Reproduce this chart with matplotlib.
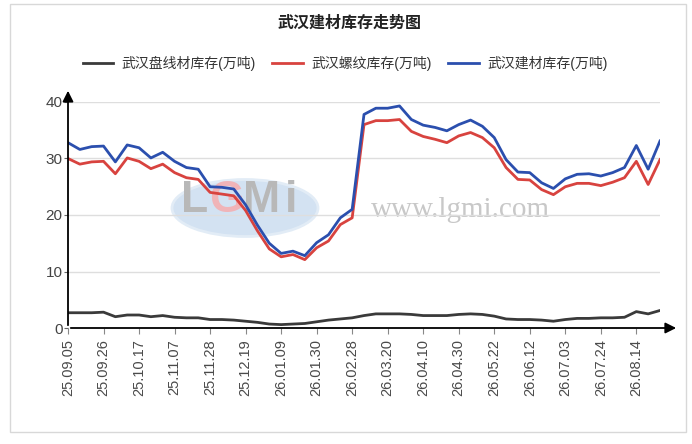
import matplotlib.pyplot as plt
import numpy as np
from matplotlib.patches import Rectangle, Ellipse

plt.rcParams['font.family'] = ['Liberation Sans', 'Noto Sans CJK SC', 'DejaVu Sans']

tick_labels = ['25.09.05', '25.09.26', '25.10.17', '25.11.07', '25.11.28', '25.12.19',
               '26.01.09', '26.01.30', '26.02.28', '26.03.20', '26.04.10', '26.04.30',
               '26.05.22', '26.06.12', '26.07.03', '26.07.24', '26.08.14']

wire_rod = [2.7, 2.7, 2.7, 2.8, 2.0, 2.3, 2.3, 2.0, 2.2, 1.9, 1.8, 1.8, 1.5,
            1.5, 1.4, 1.2, 1.0, 0.7, 0.6, 0.7, 0.8, 1.1, 1.4, 1.6, 1.8, 2.2,
            2.5, 2.5, 2.5, 2.4, 2.2, 2.2, 2.2, 2.4, 2.5, 2.4, 2.1, 1.6, 1.5,
            1.5, 1.4, 1.2, 1.5, 1.7, 1.7, 1.8, 1.8, 1.9, 2.9, 2.5, 3.1]

rebar = [30.0, 29.0, 29.4, 29.5, 27.3, 30.1, 29.5, 28.2, 29.0, 27.5, 26.6, 26.3, 24.0,
         23.7, 23.4, 20.8, 17.2, 14.0, 12.6, 13.0, 12.1, 14.2, 15.4, 18.3, 19.5, 36.0,
         36.7, 36.7, 36.9, 34.8, 33.9, 33.4, 32.8, 34.0, 34.6, 33.7, 31.9, 28.4, 26.3,
         26.2, 24.5, 23.6, 25.0, 25.6, 25.6, 25.2, 25.8, 26.6, 29.5, 25.4, 29.8]

building = [32.8, 31.6, 32.1, 32.2, 29.4, 32.4, 31.9, 30.1, 31.1, 29.5, 28.4, 28.1, 25.0,
            24.9, 24.6, 21.8, 18.2, 15.0, 13.2, 13.6, 12.8, 15.1, 16.5, 19.5, 21.0, 37.8,
            38.9, 38.9, 39.3, 36.9, 35.9, 35.5, 34.9, 36.0, 36.8, 35.7, 33.7, 29.8, 27.6,
            27.5, 25.7, 24.7, 26.4, 27.2, 27.3, 26.9, 27.5, 28.4, 32.3, 28.1, 33.1]

x = np.arange(len(building))
W, H = 692, 444

fig = plt.figure(figsize=(6.92, 4.44), dpi=100)
fig.patches.append(Rectangle((10 / W, 1 - 432 / H), 676 / W, 428 / H,
                             transform=fig.transFigure, fill=False,
                             edgecolor='#d8d8d8', lw=1))
ax = fig.add_axes([68 / W, 1 - 328 / H, 592 / W, 226 / H])
ax.set_zorder(2)
ax.set_facecolor('none')

# watermark behind the plot
fig.patches.append(Ellipse((245 / W, 1 - 208 / H), 146 / W, 57 / H,
                           transform=fig.transFigure, facecolor='#d3e2f2',
                           edgecolor='#e2ecf6', lw=2, zorder=0))
for ch, cx, col in [('L', 195, '#b8b8b8'), ('G', 226, '#f0b4b8'),
                    ('M', 262, '#b8b8b8'), ('i', 291, '#b8b8b8')]:
    fig.text(cx / W, 1 - 200 / H, ch, fontsize=32, fontweight='bold',
             color=col, ha='center', va='center', zorder=0.5)
fig.text(460 / W, 1 - 210 / H, 'www.lgmi.com', fontsize=21,
         family='Liberation Serif', color='#c8c8c8', ha='center', va='center', zorder=0.5)

ax.plot(x, wire_rod, color='#3a3a3a', lw=2, label='武汉盘线材库存(万吨)', zorder=3,
        solid_joinstyle='round')
ax.plot(x, rebar, color='#d8433f', lw=2, label='武汉螺纹库存(万吨)', zorder=3,
        solid_joinstyle='round')
ax.plot(x, building, color='#2b4fae', lw=2, label='武汉建材库存(万吨)', zorder=3,
        solid_joinstyle='round')

ax.set_xlim(0, len(x) - 1)
ax.set_ylim(0, 40)
ax.set_yticks([0, 10, 20, 30, 40])
ax.set_xticks(np.arange(0, len(x), 3))
ax.set_xticklabels(tick_labels, rotation=90)
ax.grid(axis='y', color='#dedede', lw=1)
ax.set_axisbelow(True)
for s in ax.spines.values():
    s.set_visible(False)
ax.tick_params(axis='y', length=3, color='#666666', labelsize=11, labelcolor='#444444', pad=1)
ax.tick_params(axis='x', length=4, color='#888888', labelsize=10.5, labelcolor='#4a4a4a', pad=4)

ax.annotate('', xy=(1.032, 0), xytext=(0, 0), xycoords='axes fraction',
            arrowprops=dict(arrowstyle='-|>', color='black', lw=1.3, mutation_scale=16))
ax.annotate('', xy=(0, 1.062), xytext=(0, 0), xycoords='axes fraction',
            arrowprops=dict(arrowstyle='-|>', color='black', lw=1.3, mutation_scale=16))

fig.text(350 / W, 1 - 23 / H, '武汉建材库存走势图', fontsize=11.5, fontweight='bold',
         ha='center', va='center', color='#222222')
fig.legend(loc='center', bbox_to_anchor=(345 / W, 1 - 63 / H), ncol=3, frameon=False,
           fontsize=10, handlelength=2.2, columnspacing=1.2, handletextpad=0.6,
           labelcolor='#333333')

fig.savefig('out.png', dpi=100)
